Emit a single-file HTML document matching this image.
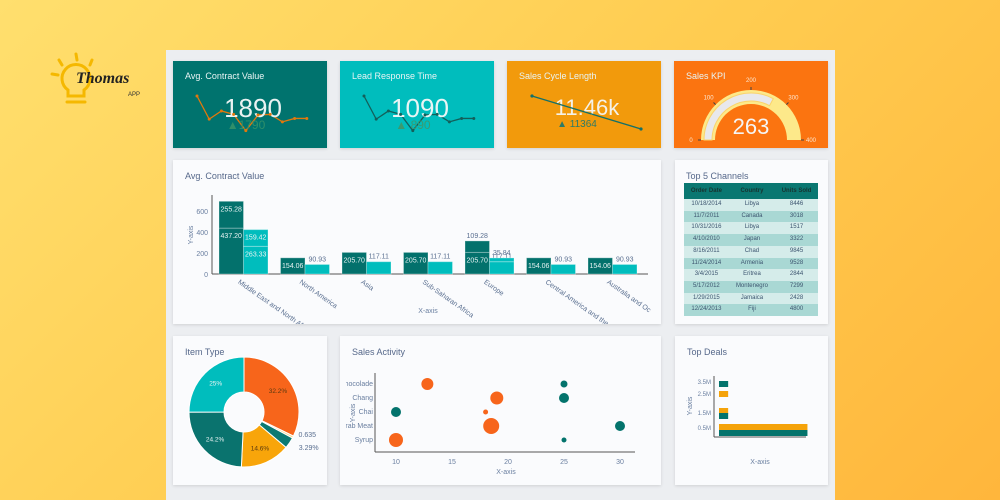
<!DOCTYPE html>
<html><head><meta charset="utf-8"><style>
body{margin:0;width:1000px;height:500px;overflow:hidden;font-family:"Liberation Sans",sans-serif;background:linear-gradient(135deg,#ffdf6e 0%,#ffcc50 50%,#ffb63c 100%);position:relative}
.panel{position:absolute;left:166px;top:50px;width:669px;height:450px;background:#eceef1}
.card{position:absolute;background:#fafbfd;box-shadow:0 1px 3px rgba(0,0,0,.12)}
.t{position:absolute;left:12px;top:11px;font-size:9px;color:#56688a}
.kt{position:absolute;left:12px;top:10px;font-size:9px;color:#e8f4f4}
svg{position:absolute;left:0;top:0}
table{border-collapse:collapse;font-size:6px;color:#3d5570;position:absolute;left:9px;top:23px;width:134px}
th{background:#0a7771;color:#173330;height:16px;padding:0;line-height:16px;font-weight:bold}
td{text-align:center;height:11.7px;padding:0;line-height:11.7px}
tr:nth-child(odd) td{background:#a9d8d4}tr:nth-child(even) td{background:#d5ecea}
</style></head><body>
<div style="position:absolute;left:48px;top:52px;width:100px;height:60px">
<svg width="100" height="60"><g stroke="#f5b800" stroke-width="3" fill="none" stroke-linecap="round"><path d="M20 38 a14 14 0 1 1 16 0 v6 h-16z"/><line x1="19" y1="50" x2="37" y2="50"/><line x1="28" y1="2" x2="29" y2="8"/><line x1="11" y1="8" x2="14" y2="13"/><line x1="44" y1="8" x2="42" y2="13"/><line x1="4" y1="22" x2="10" y2="23"/></g></svg>
<div style="position:absolute;left:28px;top:18px;font:bold 16px 'Liberation Serif',serif;color:#222;font-style:italic">Thomas</div>
<div style="position:absolute;left:80px;top:40px;font-size:6px;color:#333">APP</div></div>
<div class="panel"></div>

<div class="card" style="left:173px;top:61px;width:154px;height:87px;background:#00736e"><div class="kt">Avg. Contract Value</div>
<svg width="154" height="87"><polyline fill="none" stroke="#e2780c" stroke-width="1.3" id="sp1"/><text x="80" y="56" font-size="26" fill="#e9f2f2" text-anchor="middle">1890</text><text x="73" y="68" font-size="12" fill="#2f8f6a" text-anchor="middle">▲1790</text></svg></div>
<div class="card" style="left:340px;top:61px;width:154px;height:87px;background:#00bdbd"><div class="kt">Lead Response Time</div>
<svg width="154" height="87"><polyline fill="none" stroke="#135f5a" stroke-width="1.3" id="sp2"/><text x="80" y="56" font-size="26" fill="#e9f5f5" text-anchor="middle">1090</text><text x="73" y="68" font-size="12" fill="#3a9a70" text-anchor="middle">▲ 890</text></svg></div>
<div class="card" style="left:507px;top:61px;width:154px;height:87px;background:#f29a0c"><div class="kt">Sales Cycle Length</div>
<svg width="154" height="87"><text x="80" y="54" font-size="22" fill="#f4f1e8" text-anchor="middle">11.46k</text><text x="70" y="66" font-size="10" fill="#2d7a66" text-anchor="middle">▲ 11364</text><line x1="25" y1="35" x2="134" y2="68" stroke="#147068" stroke-width="1.3"/><circle cx="25" cy="35" r="1.6" fill="#147068"/><circle cx="134" cy="68" r="1.6" fill="#147068"/></svg></div>
<div class="card" style="left:674px;top:61px;width:154px;height:87px;background:#fb7410"><div class="kt">Sales KPI</div>
<svg width="154" height="87" id="gauge"><text x="77" y="73" font-size="22" fill="#f5f5f5" text-anchor="middle">263</text></svg></div>

<div class="card" style="left:173px;top:160px;width:488px;height:164px"><div class="t">Avg. Contract Value</div><svg width="488" height="164" id="bar"></svg></div>
<div class="card" style="left:675px;top:160px;width:153px;height:164px"><div class="t" style="top:11px;left:11px">Top 5 Channels</div>
<table><tr><th>Order Date</th><th>Country</th><th>Units Sold</th></tr>
<tr><td>10/18/2014</td><td>Libya</td><td>8446</td></tr><tr><td>11/7/2011</td><td>Canada</td><td>3018</td></tr><tr><td>10/31/2016</td><td>Libya</td><td>1517</td></tr><tr><td>4/10/2010</td><td>Japan</td><td>3322</td></tr><tr><td>8/16/2011</td><td>Chad</td><td>9845</td></tr><tr><td>11/24/2014</td><td>Armenia</td><td>9528</td></tr><tr><td>3/4/2015</td><td>Eritrea</td><td>2844</td></tr><tr><td>5/17/2012</td><td>Montenegro</td><td>7299</td></tr><tr><td>1/29/2015</td><td>Jamaica</td><td>2428</td></tr><tr><td>12/24/2013</td><td>Fiji</td><td>4800</td></tr></table></div>
<div class="card" style="left:173px;top:336px;width:154px;height:149px"><div class="t">Item Type</div><svg width="154" height="149" id="pie"></svg></div>
<div class="card" style="left:340px;top:336px;width:321px;height:149px"><div class="t">Sales Activity</div><svg width="321" height="149" id="sc"></svg></div>
<div class="card" style="left:675px;top:336px;width:153px;height:149px"><div class="t">Top Deals</div><svg width="153" height="149" id="deals"></svg></div>

<script>
const spark=[1890,1550,1670,1620,1380,1610,1620,1510,1560,1560];
const sparkY2=[1890,1550,1670,1620,1380,1610,1620,1510,1560,1560];
const gaugeValue=263, gaugeMax=400, gaugeTicks=[0,100,200,300,400];
const barCats=["Middle East and North Af","North America","Asia","Sub-Saharan Africa","Europe","Central America and the C","Australia and Oc"];
const darkBottom=[437.20,154.06,205.70,205.70,205.70,154.06,154.06];
const darkTop=[255.28,0,0,0,109.28,0,0];
const tealBottom=[263.33,90.93,117.11,117.11,117.11,90.93,90.93];
const tealTop=[159.42,0,0,0,35.84,0,0];
const yTicks=[0,200,400,600];
const pieLabels=["32.2%","0.635","3.29%","14.6%","24.2%","25%"];
const pieValues=[32.2,0.635,3.29,14.6,24.2,25];
const pieColors=["#f7651b","#f7d68a","#0c7a72","#f8a50a","#0a736e","#00bdbd"];
const scCats=["Chocolade","Chang","Chai","Crab Meat","Syrup"];
const scX=[12.8,19,18,18.5,10,25,25,10,30,25];
const scY=[0,1,2,3,4,0,1,2,3,4];
const scSize=[6,6.5,2.5,8,7,3.5,5,5,5,2.5];
const scSeries=[0,0,0,0,0,1,1,1,1,1];
const scXTicks=[10,15,20,25,30];
const dealTicks=["0.5M","1.5M","2.5M","3.5M"];
const dealOrange=[2.9,0.3,0.3];
const dealTeal=[2.9,0.3,0.3];
const NS="http://www.w3.org/2000/svg";
function el(p,t,a){const e=document.createElementNS(NS,t);for(const k in a)e.setAttribute(k,a[k]);p.appendChild(e);return e;}
function txt(p,x,y,s,sz,fill,anc,extra){const e=el(p,'text',Object.assign({x:x,y:y,'font-size':sz,fill:fill,'text-anchor':anc||'start'},extra||{}));e.textContent=s;return e;}
[['sp1',spark],['sp2',sparkY2]].forEach(([id,d])=>{const pl=document.getElementById(id);const sx=i=>24+i*12.2, sy=v=>35+(1890-v)*0.068;
pl.setAttribute('points',d.map((v,i)=>sx(i)+','+sy(v)).join(' '));
d.forEach((v,i)=>{const c=el(pl.parentNode,'circle',{cx:sx(i),cy:sy(v),r:1.5,fill:pl.getAttribute('stroke')});});});
(function(){const g=document.getElementById('gauge');const cx=77,cy=79,r=44;
const pt=(v,rr)=>{const a=Math.PI*(1-v/gaugeMax);return [cx+rr*Math.cos(a),cy-rr*Math.sin(a)];};
function arc(v0,v1,ro,ri,fill,stroke){const a=pt(v0,ro),b=pt(v1,ro),c=pt(v1,ri),d=pt(v0,ri);return el(g,'path',{d:`M${a}A${ro},${ro} 0 0 1 ${b}L${c}A${ri},${ri} 0 0 0 ${d}Z`,fill:fill,stroke:stroke||'none','stroke-width':1});}
const bg=arc(0,gaugeMax,50,36,'#fde98a');
const v=arc(0,gaugeValue,47,39,'#e8e8ec','#fbd36a');
g.appendChild(g.querySelector('text'));
gaugeTicks.forEach(t=>{const p=pt(t,53),q=pt(t,60);el(g,'line',{x1:pt(t,50)[0],y1:pt(t,50)[1],x2:p[0],y2:p[1],stroke:'#444'});txt(g,q[0],q[1]+2,String(t),6,'#fce7d0','middle');});})();
(function(){const s=document.getElementById('bar');const ox=39,base=114,k=0.105,step=61.5,bw=24.5;const y=v=>base-v*k;
el(s,'line',{x1:ox,y1:35,x2:ox,y2:base,stroke:'#555'});el(s,'line',{x1:ox,y1:base,x2:475,y2:base,stroke:'#555'});
yTicks.forEach(t=>txt(s,ox-4,y(t)+3,String(t),7,'#6a7fa0','end'));
txt(s,20,75,'Y-axis',7,'#6a7fa0','middle',{transform:'rotate(-90 20 75)'});txt(s,255,153,'X-axis',7,'#6a7fa0','middle');
function seg(x,v0,v1,fill,name){if(!v1)return;const r=el(s,'rect',{x:x,y:y(v0+v1),width:bw,height:v1*k,fill:fill,stroke:'#fff','stroke-opacity':.3});
const h=v1*k;const ly=h>=14?y(v0+v1)+10:y(v0+v1)-3;txt(s,x+bw/2,ly,v1.toFixed(2),7,h>=14?'#e8f3f3':'#5a6f90','middle');}
barCats.forEach((c,i)=>{const x=ox+7+i*step;seg(x,0,darkBottom[i],'#03716c','bar-dark');seg(x,darkBottom[i],darkTop[i],'#03716c','bar-dark-top');
seg(x+bw,0,tealBottom[i],'#00bdbd','bar-teal');seg(x+bw,tealBottom[i],tealTop[i],'#00bdbd','bar-teal-top');
txt(s,x+bw-6,base+9,c,7,'#5a6f90','start',{transform:`rotate(35 ${x+bw-6} ${base+9})`});});})();
(function(){const s=document.getElementById('pie');const cx=71,cy=76,R=55,r=20;const tot=pieValues.reduce((a,b)=>a+b,0);let a0=0;
pieValues.forEach((v,i)=>{const a1=a0+v/tot*2*Math.PI;const P=(a,rr)=>[cx+rr*Math.sin(a),cy-rr*Math.cos(a)];const lg=a1-a0>Math.PI?1:0;
const p=el(s,'path',{d:`M${P(a0,R)}A${R},${R} 0 ${lg} 1 ${P(a1,R)}L${P(a1,r)}A${r},${r} 0 ${lg} 0 ${P(a0,r)}Z`,fill:pieColors[i],stroke:'#fff','stroke-width':1});

const m=(a0+a1)/2;if(v>5){const q=P(m,40);txt(s,q[0],q[1]+2,pieLabels[i],6.5,i==0||i==3?'#5a3a10':'#e8f3f3','middle');}
else{const q=P(m,R+4);txt(s,q[0]+(i==1?2:6),q[1]+(i==1?-2:5),pieLabels[i],7,'#5a6f90','start');}a0=a1;});})();
(function(){const s=document.getElementById('sc');const ax=35,base=116;const x=v=>56+(v-10)*11.2,y=i=>48+i*14;
el(s,'line',{x1:ax,y1:37,x2:ax,y2:base,stroke:'#555'});el(s,'line',{x1:ax,y1:base,x2:295,y2:base,stroke:'#555'});
scXTicks.forEach(t=>txt(s,x(t),base+12,String(t),7,'#6a7fa0','middle'));
scCats.forEach((c,i)=>{txt(s,ax-2,y(i)+2,c,7,'#6a7fa0','end');});
el(s,'rect',{x:0,y:30,width:6,height:90,fill:'#fafbfd'});
txt(s,15,77,'Y-axis',7,'#6a7fa0','middle',{transform:'rotate(-90 15 77)'});txt(s,166,138,'X-axis',7,'#6a7fa0','middle');
scX.forEach((v,i)=>{const c=el(s,'circle',{cx:x(v),cy:y(scY[i]),r:scSize[i],fill:scSeries[i]?'#03736c':'#f7651b'});});})();
(function(){const s=document.getElementById('deals');const ax=39,base=101;
el(s,'line',{x1:ax,y1:40,x2:ax,y2:base,stroke:'#555'});el(s,'line',{x1:ax,y1:base,x2:131,y2:base,stroke:'#555'});
const ty=[92,77,58,46];dealTicks.forEach((t,i)=>txt(s,ax-3,ty[i]+2,t,6,'#6a7fa0','end'));
txt(s,17,70,'Y-axis',7,'#6a7fa0','middle',{transform:'rotate(-90 17 70)'});txt(s,85,128,'X-axis',7,'#6a7fa0','middle');
const w=v=>v*30.5;const oy=[88,72,55],ty2=[94,77,45];
dealOrange.forEach((v,i)=>{const r=el(s,'rect',{x:ax+5,y:oy[i],width:w(v),height:6,fill:'#f5a30a'});});
dealTeal.forEach((v,i)=>{const r=el(s,'rect',{x:ax+5,y:ty2[i],width:w(v),height:6,fill:'#03736c'});});})();
</script></body></html>
